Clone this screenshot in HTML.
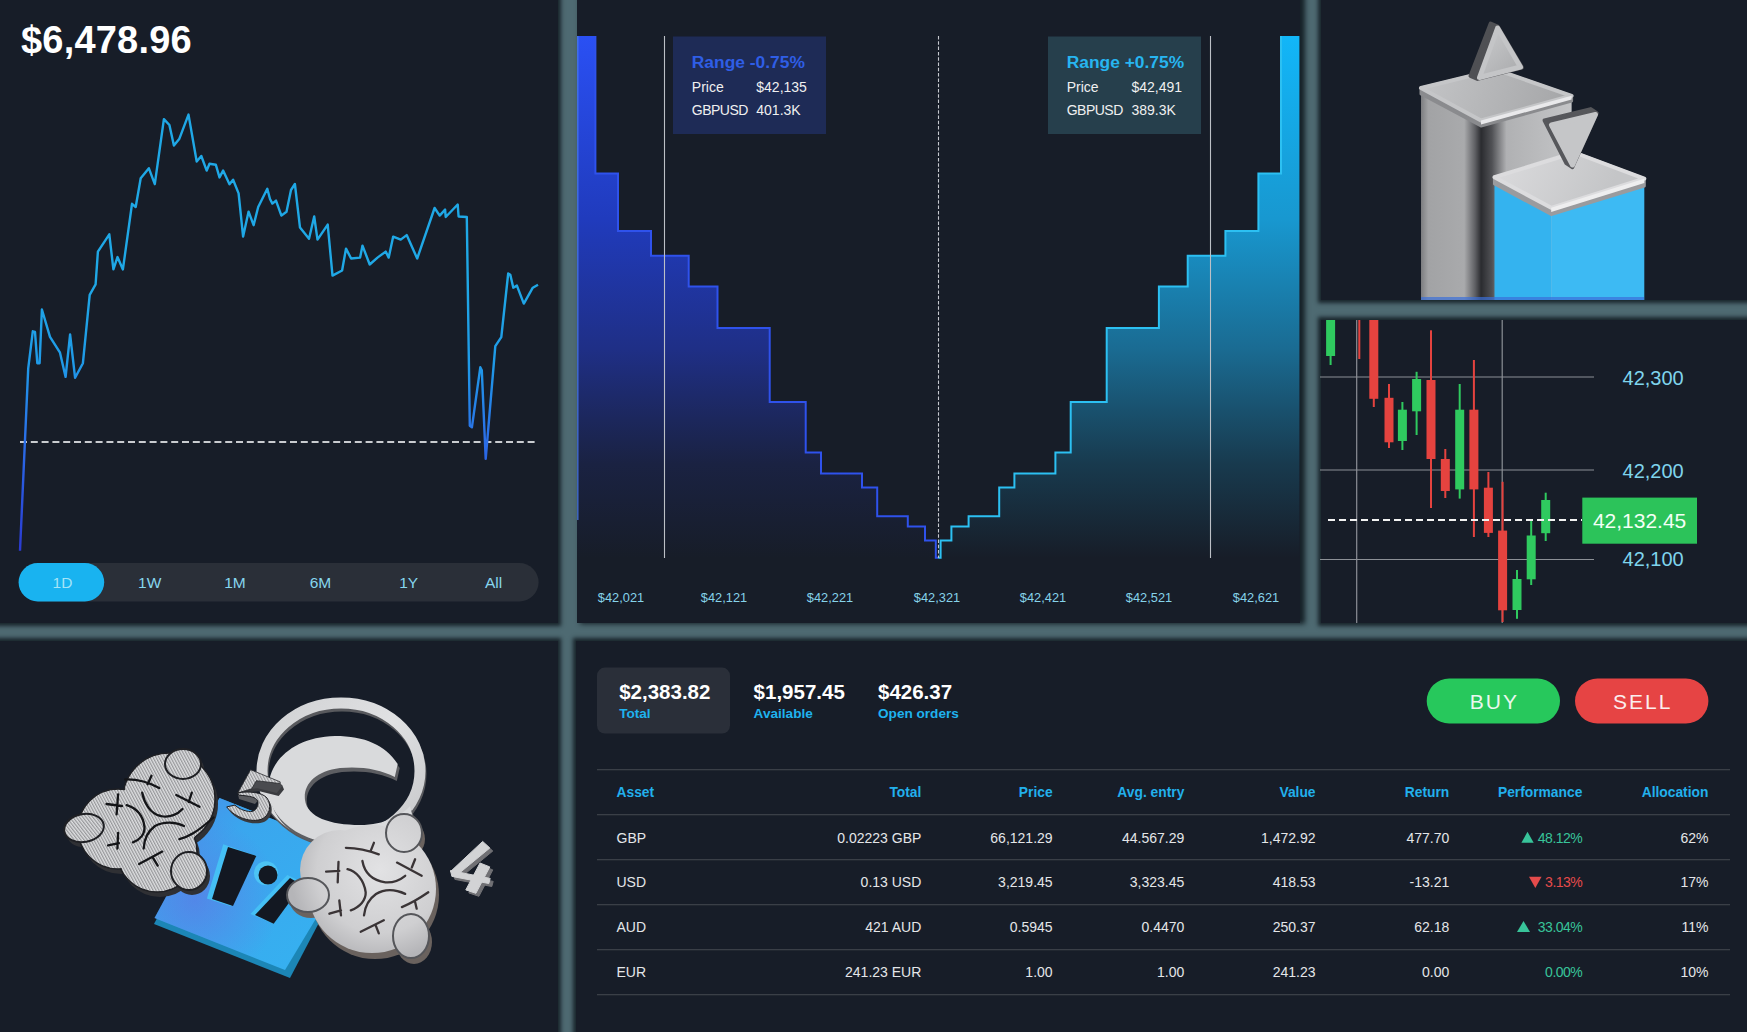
<!DOCTYPE html>
<html><head><meta charset="utf-8">
<style>
*{margin:0;padding:0;box-sizing:border-box}
html,body{width:1747px;height:1032px;overflow:hidden;background:#4e6a72;font-family:"Liberation Sans",sans-serif}
.p{position:absolute;background:#171d28;box-shadow:0 0 4px 3px rgba(12,20,26,.8)}
.t{position:absolute;white-space:nowrap;line-height:1}
svg.ov{position:absolute;left:0;top:0}
</style></head><body>
<!-- panels -->
<div class="p" style="left:-10px;top:-10px;width:568px;height:633px"></div>
<div class="p" style="left:577px;top:-10px;width:723px;height:633px;box-shadow:4px 0 5px 1px rgba(12,20,26,.85)"></div>
<div class="p" style="left:1321px;top:-10px;width:436px;height:310px"></div>
<div class="p" style="left:1321px;top:320px;width:436px;height:303px"></div>
<div class="p" style="left:-10px;top:641px;width:568px;height:401px"></div>
<div class="p" style="left:576px;top:641px;width:1181px;height:401px"></div>

<svg class="ov" width="1747" height="1032" viewBox="0 0 1747 1032">
<defs>
 <linearGradient id="gL" x1="0" y1="36" x2="0" y2="558" gradientUnits="userSpaceOnUse">
  <stop offset="0" stop-color="#2a50f4"/><stop offset="0.35" stop-color="#203bbd"/><stop offset="0.6" stop-color="#1f2f86"/><stop offset="0.82" stop-color="#1a2242"/><stop offset="1" stop-color="#171d28"/>
 </linearGradient>
 <linearGradient id="gR" x1="0" y1="36" x2="0" y2="558" gradientUnits="userSpaceOnUse">
  <stop offset="0" stop-color="#12b6f8"/><stop offset="0.35" stop-color="#1898d0"/><stop offset="0.6" stop-color="#1a6b92"/><stop offset="0.82" stop-color="#183a4e"/><stop offset="1" stop-color="#171d28"/>
 </linearGradient>
 <linearGradient id="gLine" x1="0" y1="280" x2="0" y2="560" gradientUnits="userSpaceOnUse">
  <stop offset="0" stop-color="#1fa8e6"/><stop offset="0.3" stop-color="#1f9ae8"/><stop offset="0.55" stop-color="#2a72e8"/><stop offset="0.7" stop-color="#2a5ce2"/><stop offset="1" stop-color="#2b36cf"/>
 </linearGradient>
</defs>
<!-- top-left line chart -->
<line x1="20" y1="442" x2="538" y2="442" stroke="#c9ccd0" stroke-width="1.8" stroke-dasharray="7 3.8"/>
<path fill="none" stroke="url(#gLine)" stroke-width="2.4" stroke-linejoin="round" d="M20.0,550.8 L28.2,368.7 L32.8,331.3 L35.0,332.0 L37.3,363.2 L39.6,363.2 L41.9,309.5 L50.0,336.8 L60.0,352.7 L65.6,376.9 L70.1,334.5 L75.1,377.8 L82.9,363.2 L89.7,294.9 L95.6,284.4 L97.9,251.6 L109.3,234.3 L113.4,269.4 L117.5,257.1 L122.9,269.4 L132.0,203.8 L135.7,207.0 L140.7,178.3 L148.9,168.3 L154.8,184.2 L163.9,119.1 L169.4,125.0 L173.9,145.5 L179.4,138.7 L188.5,114.6 L196.7,161.5 L201.3,156.0 L206.7,170.6 L209.5,163.8 L215.8,164.7 L219.5,177.4 L223.1,170.6 L229.5,184.2 L233.1,179.7 L238.6,193.4 L243.1,236.6 L248.6,211.6 L253.6,225.2 L258.2,207.0 L267.3,188.8 L270.0,199.0 L272.4,203.6 L276.0,200.6 L281.4,215.6 L286.5,211.7 L291.0,190.0 L294.9,184.0 L300.0,227.6 L309.0,238.7 L314.2,216.5 L317.5,239.6 L327.7,224.6 L332.5,275.6 L342.1,270.5 L346.0,248.6 L351.1,258.5 L360.1,257.6 L362.5,245.6 L369.7,264.5 L377.5,257.6 L385.7,251.6 L388.7,257.6 L393.2,236.6 L400.7,239.6 L406.7,235.1 L417.2,258.5 L434.6,208.0 L439.7,215.6 L445.1,209.6 L445.7,217.0 L457.7,204.5 L458.6,216.5 L466.8,217.0 L469.8,425.8 L471.9,427.3 L480.3,367.3 L481.8,370.3 L485.7,458.9 L495.3,346.2 L501.3,337.2 L508.2,273.5 L510.3,274.8 L513.3,287.7 L516.9,285.6 L523.8,303.6 L532.8,287.7 L538.0,284.7"/>
<!-- pill bar -->
<rect x="18.6" y="563" width="520" height="38.5" rx="19.25" fill="#2a2f38"/>
<rect x="18.6" y="563" width="85.6" height="38.5" rx="19.25" fill="#19b3f0"/>

<!-- depth chart -->
<path fill="url(#gL)" d="M577.0,36.0 595.4,36.0 595.4,173.6 618.0,173.6 618.0,231.0 651.0,231.0 651.0,255.7 688.7,255.7 688.7,286.5 717.5,286.5 717.5,328.0 769.7,328.0 769.7,402.0 805.7,402.0 805.7,452.4 821.0,452.4 821.0,473.5 862.0,473.5 862.0,487.6 877.2,487.6 877.2,516.3 907.8,516.3 907.8,526.5 925.0,526.5 925.0,540.4 935.8,540.4 935.8,557.8 938.2,557.8 L938.2,558 L577,558 Z"/>
<path fill="url(#gR)" d="M1299.4,36.0 1281.0,36.0 1281.0,173.6 1258.4,173.6 1258.4,231.0 1225.4,231.0 1225.4,255.7 1187.7,255.7 1187.7,286.5 1158.9,286.5 1158.9,328.0 1106.7,328.0 1106.7,402.0 1070.7,402.0 1070.7,452.4 1055.4,452.4 1055.4,473.5 1014.4,473.5 1014.4,487.6 999.2,487.6 999.2,516.3 968.6,516.3 968.6,526.5 951.4,526.5 951.4,540.4 940.6,540.4 940.6,557.8 938.2,557.8 L938.2,558 L1299.4,558 Z"/>
<path fill="none" stroke="#2f52ec" stroke-width="2" d="M595.4,36.0 595.4,173.6 618.0,173.6 618.0,231.0 651.0,231.0 651.0,255.7 688.7,255.7 688.7,286.5 717.5,286.5 717.5,328.0 769.7,328.0 769.7,402.0 805.7,402.0 805.7,452.4 821.0,452.4 821.0,473.5 862.0,473.5 862.0,487.6 877.2,487.6 877.2,516.3 907.8,516.3 907.8,526.5 925.0,526.5 925.0,540.4 935.8,540.4 935.8,557.8 938.2,557.8"/>
<path fill="none" stroke="#2cc0f2" stroke-width="2" d="M1281.0,36.0 1281.0,173.6 1258.4,173.6 1258.4,231.0 1225.4,231.0 1225.4,255.7 1187.7,255.7 1187.7,286.5 1158.9,286.5 1158.9,328.0 1106.7,328.0 1106.7,402.0 1070.7,402.0 1070.7,452.4 1055.4,452.4 1055.4,473.5 1014.4,473.5 1014.4,487.6 999.2,487.6 999.2,516.3 968.6,516.3 968.6,526.5 951.4,526.5 951.4,540.4 940.6,540.4 940.6,557.8 938.2,557.8"/>
<line x1="577.8" y1="36" x2="577.8" y2="520" stroke="#4a7ae8" stroke-width="1.5" opacity="0.8"/>
<line x1="664.5" y1="36" x2="664.5" y2="558" stroke="#bcc0c6" stroke-width="1.1"/>
<line x1="1210.5" y1="36" x2="1210.5" y2="558" stroke="#bcc0c6" stroke-width="1.1"/>
<line x1="938.5" y1="36" x2="938.5" y2="558" stroke="#c6c9cf" stroke-width="1.1" stroke-dasharray="3.5 1.8"/>
<rect x="673" y="36.5" width="153" height="97.5" fill="#1e2b56"/>
<rect x="1048" y="36.5" width="153" height="97.5" fill="#263f4c"/>
<!-- 3D bars top-right -->
<defs>
 <linearGradient id="tallL" x1="1421" y1="0" x2="1481" y2="0" gradientUnits="userSpaceOnUse">
  <stop offset="0" stop-color="#7c7d80"/><stop offset="0.12" stop-color="#a2a3a5"/><stop offset="0.72" stop-color="#a9aaac"/><stop offset="0.9" stop-color="#5f6064"/><stop offset="1" stop-color="#2c2d31"/>
 </linearGradient>
 <linearGradient id="tallR" x1="1481" y1="0" x2="1572" y2="0" gradientUnits="userSpaceOnUse">
  <stop offset="0" stop-color="#2a2b2f"/><stop offset="0.12" stop-color="#505155"/><stop offset="0.28" stop-color="#b0b1b3"/><stop offset="1" stop-color="#c4c5c7"/>
 </linearGradient>
 <linearGradient id="lidT" x1="1421" y1="70" x2="1572" y2="120" gradientUnits="userSpaceOnUse">
  <stop offset="0" stop-color="#c4c5c7"/><stop offset="1" stop-color="#a3a4a6"/>
 </linearGradient>
 <linearGradient id="lidB" x1="1494" y1="152" x2="1600" y2="208" gradientUnits="userSpaceOnUse">
  <stop offset="0" stop-color="#dcdcde"/><stop offset="1" stop-color="#c4c5c7"/>
 </linearGradient>
 <linearGradient id="triG" x1="1470" y1="23" x2="1522" y2="75" gradientUnits="userSpaceOnUse">
  <stop offset="0" stop-color="#d0d1d3"/><stop offset="1" stop-color="#a9aaac"/>
 </linearGradient>
</defs>
<path d="M1421,92 L1421,300 L1481,300 L1481,124 Z" fill="url(#tallL)"/>
<path d="M1481,124 L1571.6,99 L1571.6,300 L1481,300 Z" fill="url(#tallR)"/>
<path d="M1421,88 L1496,69.6 L1571.6,95.8 L1571.6,101 L1481,126 L1421,94 Z" fill="#8a8b8e" stroke="#8a8b8e" stroke-width="3" stroke-linejoin="round"/>
<path d="M1421,88 L1496,69.6 L1571.6,95.8 L1481,120.5 Z" fill="url(#lidT)" stroke="#c5c6c8" stroke-width="4" stroke-linejoin="round"/>
<path d="M1481,120.5 L1571.6,95.8 L1571.6,99.5 L1481,124.5 Z" fill="#e9e9eb"/>
<path d="M1490.6,23.6 L1497.6,26.6 L1522,67.6 L1477.5,78.9 L1470.5,75.9 Z" fill="#4f5054" stroke="#4f5054" stroke-width="4" stroke-linejoin="round"/>
<path d="M1497.6,28 L1479.5,77.5 L1520.5,67 Z" fill="url(#triG)" stroke="#c4c5c7" stroke-width="5" stroke-linejoin="round"/>
<path d="M1494.5,184 L1494.5,300 L1551.2,300 L1551.2,214 Z" fill="#34b3ef"/>
<path d="M1551.2,214 L1644.3,186 L1644.3,300 L1551.2,300 Z" fill="#3dbaf3"/>
<path d="M1494.5,177.2 L1574.5,152.5 L1644.3,178.7 L1644.3,186 L1551.2,214.5 L1494.5,184 Z" fill="#9a9b9e" stroke="#9a9b9e" stroke-width="3" stroke-linejoin="round"/>
<path d="M1494.5,177.2 L1574.5,152.5 L1644.3,178.7 L1551.2,207.8 Z" fill="url(#lidB)" stroke="#dcdcde" stroke-width="4" stroke-linejoin="round"/>
<path d="M1551.2,207.8 L1644.3,178.7 L1644.3,183 L1551.2,212 Z" fill="#eeeeef"/>
<path d="M1544.5,120.4 L1590.7,109.1 L1596.7,113.1 L1572.3,167.1 L1566.3,163.1 Z" fill="#56575b" stroke="#56575b" stroke-width="4" stroke-linejoin="round"/>
<path d="M1551.5,125 L1595.5,114.5 L1572.5,165 Z" fill="#c5c6c8" stroke="#c5c6c8" stroke-width="5" stroke-linejoin="round"/>
<rect x="1421" y="297" width="223" height="3" fill="#3b6fd8" opacity="0.7"/>
<!-- 3D illustration bottom-left -->
<defs>
 <pattern id="stripe" patternUnits="userSpaceOnUse" width="2.6" height="2.6" patternTransform="rotate(-28)">
  <rect width="2.6" height="2.6" fill="#dedfe1"/><rect width="1.2" height="2.6" fill="#96979a"/>
 </pattern>
 <linearGradient id="plateG" x1="160" y1="800" x2="300" y2="960" gradientUnits="userSpaceOnUse">
  <stop offset="0" stop-color="#4a8be8"/><stop offset="0.35" stop-color="#3aa6ee"/><stop offset="1" stop-color="#36b0f0"/>
 </linearGradient>
 <radialGradient id="blobR" cx="380" cy="870" r="90" gradientUnits="userSpaceOnUse">
  <stop offset="0" stop-color="#e2e2e4"/><stop offset="0.7" stop-color="#cfcfd1"/><stop offset="1" stop-color="#b5b5b8"/>
 </radialGradient>
 <linearGradient id="ringG" x1="260" y1="700" x2="420" y2="850" gradientUnits="userSpaceOnUse">
  <stop offset="0" stop-color="#cfd0d2"/><stop offset="0.5" stop-color="#e0e1e3"/><stop offset="1" stop-color="#c4c5c7"/>
 </linearGradient>
</defs>
<!-- blue plate -->
<defs>
 <radialGradient id="purp" cx="195" cy="900" r="85" gradientUnits="userSpaceOnUse">
  <stop offset="0" stop-color="#7060e0" stop-opacity="0.45"/><stop offset="1" stop-color="#7a5ee0" stop-opacity="0"/>
 </radialGradient>
</defs>
<path d="M219.5,798 L356,852 L290,978 L154,924 Z" fill="#1c86b6"/>
<path d="M219.5,798 L356,852 L285,970 L154.5,918 Z" fill="url(#plateG)"/>
<path d="M219.5,798 L356,852 L285,970 L154.5,918 Z" fill="url(#purp)"/>
<path d="M223.3,844.3 L256.3,855.9 L231.1,906.3 L206.9,898.5 Z" fill="#45c0f5"/>
<path d="M228,847 L256.3,855.9 L233,906 L212,899 Z" fill="#131822"/>
<circle cx="266" cy="873.3" r="12" fill="#4cc4f5"/>
<circle cx="268" cy="875" r="9.5" fill="#131822"/>
<path d="M287.3,875 L302,882 L273.7,923.7 L250.5,914 Z" fill="#45c0f5"/>
<path d="M290,878 L302,885 L273.7,923.7 L255,915 Z" fill="#131822"/>
<!-- ring -->
<ellipse cx="342" cy="774" rx="79" ry="68" fill="none" stroke="#58595d" stroke-width="11"/>
<ellipse cx="341" cy="771" rx="79" ry="68" fill="none" stroke="url(#ringG)" stroke-width="11"/>
<path d="M268.3,790 C268,760 295,737 335,736 C365,736 385,745 397.7,764 L394.8,777 C380,769 360,766 340,768 C315,771 303,785 305,800 C307,817 330,825 360,825 C385,825 402,815 410,806 L414,822 C405,838 385,846 355,846 C310,846 270,825 268.3,790 Z" fill="#5d5e62" transform="translate(2,4)"/>
<path d="M268.3,790 C268,760 295,737 335,736 C365,736 385,745 397.7,764 L394.8,777 C380,769 360,766 340,768 C315,771 303,785 305,800 C307,817 330,825 360,825 C385,825 402,815 410,806 L414,822 C405,838 385,846 355,846 C310,846 270,825 268.3,790 Z" fill="#d9dadc"/>
<!-- left blob -->
<g transform="translate(3,5)" fill="#2f3034">
 <circle cx="169" cy="799" r="46"/><circle cx="157" cy="852" r="40"/><circle cx="118" cy="829" r="40"/>
 <ellipse cx="84" cy="828" rx="20" ry="14" transform="rotate(-10 84 828)"/><ellipse cx="183" cy="764" rx="18" ry="15"/><ellipse cx="189" cy="871" rx="18" ry="19"/>
</g>
<g fill="url(#stripe)" stroke="#1f2024" stroke-width="1.5">
 <circle cx="169" cy="799" r="46"/><circle cx="157" cy="852" r="40"/><circle cx="118" cy="829" r="40"/>
</g>
<g fill="url(#stripe)">
 <circle cx="169" cy="799" r="45"/><circle cx="157" cy="852" r="39"/><circle cx="118" cy="829" r="39"/><path d="M130,790 L200,830 L160,880 L100,850 Z"/>
</g>
<g fill="url(#stripe)" stroke="#1f2024" stroke-width="2">
 <ellipse cx="84" cy="828" rx="20" ry="14" transform="rotate(-10 84 828)"/><ellipse cx="183" cy="764" rx="18" ry="15"/><ellipse cx="189" cy="871" rx="18" ry="19"/>
</g>
<g fill="none" stroke="#141518" stroke-width="2.3" stroke-linecap="round">
 <path d="M142.2,792.7 C144,802 150,814 160.8,816 C170,818 178,814 182.5,809"/>
 <path d="M126.7,805.1 C136,808 143,815 144.5,826.8 C145,834 140,840 132.9,842.3"/>
 <path d="M143.7,848.5 C144,840 147,832 155,826 C164,821 176,822 184,826"/>
 <path d="M179.4,839.2 C188,837 196,833 213.5,817.5"/>
 <path d="M125.1,779.5 C138,779 150,783 159.2,788 M151.5,775.7 L147.6,784.2"/>
 <path d="M106.5,804 L122,806 M118.1,794.3 L116.6,814.4"/>
 <path d="M176.3,795 L199.5,806.7 M191.8,792.7 L188.7,802"/>
 <path d="M108.1,845.4 L118.9,843.1 M118.1,833 L117.4,848.5"/>
 <path d="M139.1,864 L162.3,851.6 M153,857.8 L157.7,865.6"/>
</g>
<!-- 5 -->
<g fill="#3a3b3f" transform="translate(2,3)">
 <path d="M250.6,769.7 L280.2,781.9 L282,786.5 L276.7,792.9 L257.6,788.3 L251.7,788.8 L237.8,792.9 Z"/>
 <path d="M237.8,792.9 C248,791 262,792 267,798 C272,805 270,815 262,819 C252,823 235,818 226.7,806.9 L234.9,805.1 C240,810 248,812 252.3,811.5 C257,810 259,804 257.6,801 C256,797 250,796 239,795.2 Z"/>
</g>
<path d="M251.7,788.8 L256.4,780.7 L280.2,781.9 L282,786.5 L276.7,792.9 L257.6,788.3 Z" fill="#4a4b4f"/>
<path d="M238,794 L252,795.5 L257.6,801 L255,804 L239,799 Z" fill="#5a5b5f"/>
<path d="M250.6,769.7 L280.2,781.9 L279.5,783.5 L256.4,780.7 L251.7,788.8 L237.8,792.9 Z" fill="url(#stripe)" stroke="#2a2b2f" stroke-width="0.8" stroke-linejoin="round"/>
<path d="M237.8,792.9 C248,791 262,792 267,798 C272,805 270,815 262,819 C252,823 235,818 226.7,806.9 L234.9,805.1 C240,810 248,812 252.3,811.5 C257,810 259,804 257.6,801 C256,797 250,796 239,795.2 Z" fill="url(#stripe)" stroke="#1e1f23" stroke-width="1" stroke-linejoin="round"/>
<!-- right blob -->
<g transform="translate(3,6)" fill="#6a625e">
 <circle cx="372" cy="889" r="64"/><ellipse cx="308" cy="895" rx="21" ry="17"/><ellipse cx="404" cy="833" rx="18" ry="19"/><ellipse cx="411" cy="936" rx="18" ry="22"/><circle cx="340" cy="870" r="40"/>
</g>
<g fill="url(#blobR)">
 <circle cx="372" cy="889" r="64"/><circle cx="340" cy="870" r="40"/>
</g>
<g fill="url(#blobR)" stroke="#55565a" stroke-width="2">
 <ellipse cx="308" cy="895" rx="21" ry="17"/><ellipse cx="404" cy="833" rx="18" ry="19"/><ellipse cx="411" cy="936" rx="18" ry="22"/>
</g>
<g fill="none" stroke="#3a3436" stroke-width="2.3" stroke-linecap="round">
 <path d="M345.9,847.8 C358,848 370,851 378.8,854.4 M373.9,842.8 L370.6,851.1"/>
 <path d="M326.1,871.7 L339.3,870.8 M338.5,861.8 L337.7,882.4"/>
 <path d="M347.5,869.2 C356,871 364,880 365.7,892.3 C366,900 360,907 350.8,910.4"/>
 <path d="M362.4,861 C364,870 370,880 385.4,882.4 C394,883 400,880 405.2,875.8"/>
 <path d="M364,915.3 C365,906 369,899 376,894 C384,889 395,889 405.2,893.9"/>
 <path d="M397,862.6 L421.7,875.8 M415.1,859.3 L411.8,867.5"/>
 <path d="M329.4,913.7 L341,910.4 M339.3,900.5 L341,915.3"/>
 <path d="M360.7,931.8 L383.8,920.3 M375.6,925.2 L378.8,933.4"/>
 <path d="M401.9,907.1 C412,903 420,898 428.3,892.3 M415.1,902.1 L416.7,908.7"/>
</g>
<!-- 4 -->
<g fill="#707074" stroke="#707074" stroke-width="1" stroke-linejoin="round" transform="translate(3,3)">
 <path d="M482.7,841.4 L489.8,848 L457,875 L450.5,871.6 Z"/><path d="M450.5,870.5 L490.2,878.4 L488.8,883.5 L451.9,876.4 Z"/><path d="M480,863 L489.8,866.9 L475.9,893.3 L465.8,889.9 Z"/>
</g>
<g fill="#d2d3d5" stroke="#d2d3d5" stroke-width="1" stroke-linejoin="round">
 <path d="M482.7,841.4 L489.8,848 L457,875 L450.5,871.6 Z"/><path d="M450.5,870.5 L490.2,878.4 L488.8,883.5 L451.9,876.4 Z"/><path d="M480,863 L489.8,866.9 L475.9,893.3 L465.8,889.9 Z"/>
</g>
<!-- candles -->
<line x1="1320" y1="377" x2="1594" y2="377" stroke="#8c9096" stroke-width="1.2"/>
<line x1="1320" y1="470" x2="1594" y2="470" stroke="#8c9096" stroke-width="1.2"/>
<line x1="1320" y1="559.5" x2="1594" y2="559.5" stroke="#8c9096" stroke-width="1.2"/>
<line x1="1356.7" y1="320" x2="1356.7" y2="623" stroke="#8c9096" stroke-width="1.2"/>
<line x1="1502.2" y1="320" x2="1502.2" y2="623" stroke="#8c9096" stroke-width="1.2"/>
<rect x="1329.6" y="320" width="2" height="45.0" fill="#2fca5f"/>
<rect x="1326.1" y="320" width="9" height="36.0" fill="#2fca5f"/>
<rect x="1358.3" y="320" width="2" height="39.0" fill="#e5433f"/>
<rect x="1372.8" y="320" width="2" height="87.0" fill="#e5433f"/>
<rect x="1369.3" y="320" width="9" height="78.8" fill="#e5433f"/>
<rect x="1388.0" y="384" width="2" height="64.0" fill="#e5433f"/>
<rect x="1384.5" y="397.8" width="9" height="44.5" fill="#e5433f"/>
<rect x="1401.4" y="402" width="2" height="48.0" fill="#2fca5f"/>
<rect x="1397.9" y="409.7" width="9" height="31.3" fill="#2fca5f"/>
<rect x="1415.6" y="371.8" width="2" height="63.2" fill="#2fca5f"/>
<rect x="1412.1" y="379" width="9" height="32.3" fill="#2fca5f"/>
<rect x="1430.0" y="330.3" width="2" height="177.7" fill="#e5433f"/>
<rect x="1426.5" y="380" width="9" height="79.0" fill="#e5433f"/>
<rect x="1444.3" y="449" width="2" height="49.0" fill="#e5433f"/>
<rect x="1440.8" y="459" width="9" height="32.0" fill="#e5433f"/>
<rect x="1458.7" y="384" width="2" height="114.6" fill="#2fca5f"/>
<rect x="1455.2" y="409.7" width="9" height="79.7" fill="#2fca5f"/>
<rect x="1472.9" y="360" width="2" height="177.0" fill="#e5433f"/>
<rect x="1469.4" y="409.7" width="9" height="79.7" fill="#e5433f"/>
<rect x="1487.4" y="472" width="2" height="65.0" fill="#e5433f"/>
<rect x="1483.9" y="487.7" width="9" height="45.2" fill="#e5433f"/>
<rect x="1501.6" y="481.8" width="2" height="140.2" fill="#e5433f"/>
<rect x="1498.1" y="530.6" width="9" height="79.7" fill="#e5433f"/>
<rect x="1516.0" y="570" width="2" height="48.8" fill="#2fca5f"/>
<rect x="1512.5" y="579" width="9" height="31.0" fill="#2fca5f"/>
<rect x="1530.2" y="521" width="2" height="64.0" fill="#2fca5f"/>
<rect x="1526.7" y="535.5" width="9" height="43.8" fill="#2fca5f"/>
<rect x="1544.7" y="492.7" width="2" height="48.3" fill="#2fca5f"/>
<rect x="1541.2" y="500" width="9" height="33.2" fill="#2fca5f"/>
<line x1="1328" y1="520" x2="1582" y2="520" stroke="#f2f2f2" stroke-width="2" stroke-dasharray="7 4"/>
<rect x="1582.3" y="497.6" width="114.7" height="46.1" fill="#2cc35a"/>
<!-- table -->
<rect x="597" y="667.6" width="133" height="66" rx="8" fill="#2a2f39"/>
<rect x="597" y="769" width="1133" height="1.3" fill="#3a3f47"/>
<rect x="597" y="814" width="1133" height="1.3" fill="#3a3f47"/>
<rect x="597" y="859" width="1133" height="1.3" fill="#3a3f47"/>
<rect x="597" y="904" width="1133" height="1.3" fill="#3a3f47"/>
<rect x="597" y="949" width="1133" height="1.3" fill="#3a3f47"/>
<rect x="597" y="994" width="1133" height="1.3" fill="#3a3f47"/>
<rect x="1426.7" y="678.5" width="133.3" height="45" rx="22.5" fill="#27c85c"/>
<rect x="1575" y="678.5" width="133.4" height="45" rx="22.5" fill="#e64444"/>
<path d="M1521.4,842.8 L1533.7,842.8 L1527.5,831.7 Z" fill="#38c49a"/>
<path d="M1529,876.8 L1541.6,876.8 L1535.3,887.9 Z" fill="#e54b4b"/>
<path d="M1517,932 L1530,932 L1523.5,921 Z" fill="#38c49a"/>
</svg>

<!-- texts top-left -->
<!--TEXT-->
<div class="t" style="left:21.0px;top:21.1px;font-size:38px;color:#fff;font-weight:bold;letter-spacing:0.2px">$6,478.96</div>
<div class="t" style="left:-237.5px;width:600px;text-align:center;top:574.9px;font-size:15.5px;color:#a5e4f7">1D</div>
<div class="t" style="left:-150.3px;width:600px;text-align:center;top:574.9px;font-size:15.5px;color:#86d6ee">1W</div>
<div class="t" style="left:-65.0px;width:600px;text-align:center;top:574.9px;font-size:15.5px;color:#86d6ee">1M</div>
<div class="t" style="left:20.5px;width:600px;text-align:center;top:574.9px;font-size:15.5px;color:#86d6ee">6M</div>
<div class="t" style="left:108.7px;width:600px;text-align:center;top:574.9px;font-size:15.5px;color:#86d6ee">1Y</div>
<div class="t" style="left:193.6px;width:600px;text-align:center;top:574.9px;font-size:15.5px;color:#86d6ee">All</div>
<div class="t" style="left:691.8px;top:53.5px;font-size:17.4px;color:#2f5ee6;font-weight:bold">Range -0.75%</div>
<div class="t" style="left:691.8px;top:79.9px;font-size:14px;color:#f0f0f0">Price</div>
<div class="t" style="left:756.3px;top:79.9px;font-size:14px;color:#f0f0f0">$42,135</div>
<div class="t" style="left:691.8px;top:103.1px;font-size:14px;color:#f0f0f0;letter-spacing:-0.5px">GBPUSD</div>
<div class="t" style="left:756.3px;top:103.1px;font-size:14px;color:#f0f0f0">401.3K</div>
<div class="t" style="left:1066.7px;top:53.5px;font-size:17.4px;color:#27b5f0;font-weight:bold">Range +0.75%</div>
<div class="t" style="left:1066.7px;top:79.9px;font-size:14px;color:#f0f0f0">Price</div>
<div class="t" style="left:1131.5px;top:79.9px;font-size:14px;color:#f0f0f0">$42,491</div>
<div class="t" style="left:1066.7px;top:103.1px;font-size:14px;color:#f0f0f0;letter-spacing:-0.5px">GBPUSD</div>
<div class="t" style="left:1131.5px;top:103.1px;font-size:14px;color:#f0f0f0">389.3K</div>
<div class="t" style="left:321.0px;width:600px;text-align:center;top:591.5px;font-size:12.8px;color:#86d3ea">$42,021</div>
<div class="t" style="left:424.0px;width:600px;text-align:center;top:591.5px;font-size:12.8px;color:#86d3ea">$42,121</div>
<div class="t" style="left:530.0px;width:600px;text-align:center;top:591.5px;font-size:12.8px;color:#86d3ea">$42,221</div>
<div class="t" style="left:637.0px;width:600px;text-align:center;top:591.5px;font-size:12.8px;color:#86d3ea">$42,321</div>
<div class="t" style="left:743.0px;width:600px;text-align:center;top:591.5px;font-size:12.8px;color:#86d3ea">$42,421</div>
<div class="t" style="left:849.0px;width:600px;text-align:center;top:591.5px;font-size:12.8px;color:#86d3ea">$42,521</div>
<div class="t" style="left:956.0px;width:600px;text-align:center;top:591.5px;font-size:12.8px;color:#86d3ea">$42,621</div>
<div class="t" style="right:63.3px;top:368.1px;font-size:20px;color:#7fd4ec">42,300</div>
<div class="t" style="right:63.3px;top:461.0px;font-size:20px;color:#7fd4ec">42,200</div>
<div class="t" style="right:63.3px;top:549.2px;font-size:20px;color:#7fd4ec">42,100</div>
<div class="t" style="left:1339.6px;width:600px;text-align:center;top:509.5px;font-size:21px;color:#f4fff6">42,132.45</div>
<div class="t" style="left:619.2px;top:682.0px;font-size:20.5px;color:#fff;font-weight:bold">$2,383.82</div>
<div class="t" style="left:619.2px;top:707.3px;font-size:13.6px;color:#1fb2ee;font-weight:bold">Total</div>
<div class="t" style="left:753.6px;top:682.0px;font-size:20.5px;color:#fff;font-weight:bold">$1,957.45</div>
<div class="t" style="left:753.6px;top:707.3px;font-size:13.6px;color:#1fb2ee;font-weight:bold">Available</div>
<div class="t" style="left:878.0px;top:682.0px;font-size:20.5px;color:#fff;font-weight:bold">$426.37</div>
<div class="t" style="left:878.0px;top:707.3px;font-size:13.6px;color:#1fb2ee;font-weight:bold">Open orders</div>
<div class="t" style="left:1194.3px;width:600px;text-align:center;top:690.5px;font-size:21px;color:#eaf7ee;letter-spacing:2px">BUY</div>
<div class="t" style="left:1342.7px;width:600px;text-align:center;top:690.5px;font-size:21px;color:#fbeeee;letter-spacing:2px">SELL</div>
<div class="t" style="left:616.5px;top:785.8px;font-size:13.8px;color:#22b0ec;font-weight:bold">Asset</div>
<div class="t" style="right:825.7px;top:785.8px;font-size:13.8px;color:#22b0ec;font-weight:bold">Total</div>
<div class="t" style="right:694.4px;top:785.8px;font-size:13.8px;color:#22b0ec;font-weight:bold">Price</div>
<div class="t" style="right:562.7px;top:785.8px;font-size:13.8px;color:#22b0ec;font-weight:bold">Avg. entry</div>
<div class="t" style="right:431.5px;top:785.8px;font-size:13.8px;color:#22b0ec;font-weight:bold">Value</div>
<div class="t" style="right:297.7px;top:785.8px;font-size:13.8px;color:#22b0ec;font-weight:bold">Return</div>
<div class="t" style="right:164.7px;top:785.8px;font-size:13.8px;color:#22b0ec;font-weight:bold">Performance</div>
<div class="t" style="right:38.6px;top:785.8px;font-size:13.8px;color:#22b0ec;font-weight:bold">Allocation</div>
<div class="t" style="left:616.5px;top:830.5px;font-size:14px;color:#e4e6e8">GBP</div>
<div class="t" style="right:825.7px;top:830.5px;font-size:14px;color:#e4e6e8">0.02223 GBP</div>
<div class="t" style="right:694.4px;top:830.5px;font-size:14px;color:#e4e6e8">66,121.29</div>
<div class="t" style="right:562.7px;top:830.5px;font-size:14px;color:#e4e6e8">44.567.29</div>
<div class="t" style="right:431.5px;top:830.5px;font-size:14px;color:#e4e6e8">1,472.92</div>
<div class="t" style="right:297.7px;top:830.5px;font-size:14px;color:#e4e6e8">477.70</div>
<div class="t" style="right:164.7px;top:830.5px;font-size:14px;color:#38c49a;letter-spacing:-0.5px">48.12%</div>
<div class="t" style="right:38.6px;top:830.5px;font-size:14px;color:#e4e6e8">62%</div>
<div class="t" style="left:616.5px;top:875.4px;font-size:14px;color:#e4e6e8">USD</div>
<div class="t" style="right:825.7px;top:875.4px;font-size:14px;color:#e4e6e8">0.13 USD</div>
<div class="t" style="right:694.4px;top:875.4px;font-size:14px;color:#e4e6e8">3,219.45</div>
<div class="t" style="right:562.7px;top:875.4px;font-size:14px;color:#e4e6e8">3,323.45</div>
<div class="t" style="right:431.5px;top:875.4px;font-size:14px;color:#e4e6e8">418.53</div>
<div class="t" style="right:297.7px;top:875.4px;font-size:14px;color:#e4e6e8">-13.21</div>
<div class="t" style="right:164.7px;top:875.4px;font-size:14px;color:#e54b4b;letter-spacing:-0.5px">3.13%</div>
<div class="t" style="right:38.6px;top:875.4px;font-size:14px;color:#e4e6e8">17%</div>
<div class="t" style="left:616.5px;top:920.3px;font-size:14px;color:#e4e6e8">AUD</div>
<div class="t" style="right:825.7px;top:920.3px;font-size:14px;color:#e4e6e8">421 AUD</div>
<div class="t" style="right:694.4px;top:920.3px;font-size:14px;color:#e4e6e8">0.5945</div>
<div class="t" style="right:562.7px;top:920.3px;font-size:14px;color:#e4e6e8">0.4470</div>
<div class="t" style="right:431.5px;top:920.3px;font-size:14px;color:#e4e6e8">250.37</div>
<div class="t" style="right:297.7px;top:920.3px;font-size:14px;color:#e4e6e8">62.18</div>
<div class="t" style="right:164.7px;top:920.3px;font-size:14px;color:#38c49a;letter-spacing:-0.5px">33.04%</div>
<div class="t" style="right:38.6px;top:920.3px;font-size:14px;color:#e4e6e8">11%</div>
<div class="t" style="left:616.5px;top:965.2px;font-size:14px;color:#e4e6e8">EUR</div>
<div class="t" style="right:825.7px;top:965.2px;font-size:14px;color:#e4e6e8">241.23 EUR</div>
<div class="t" style="right:694.4px;top:965.2px;font-size:14px;color:#e4e6e8">1.00</div>
<div class="t" style="right:562.7px;top:965.2px;font-size:14px;color:#e4e6e8">1.00</div>
<div class="t" style="right:431.5px;top:965.2px;font-size:14px;color:#e4e6e8">241.23</div>
<div class="t" style="right:297.7px;top:965.2px;font-size:14px;color:#e4e6e8">0.00</div>
<div class="t" style="right:164.7px;top:965.2px;font-size:14px;color:#38c49a;letter-spacing:-0.5px">0.00%</div>
<div class="t" style="right:38.6px;top:965.2px;font-size:14px;color:#e4e6e8">10%</div>
<!--/TEXT-->
</body></html>
